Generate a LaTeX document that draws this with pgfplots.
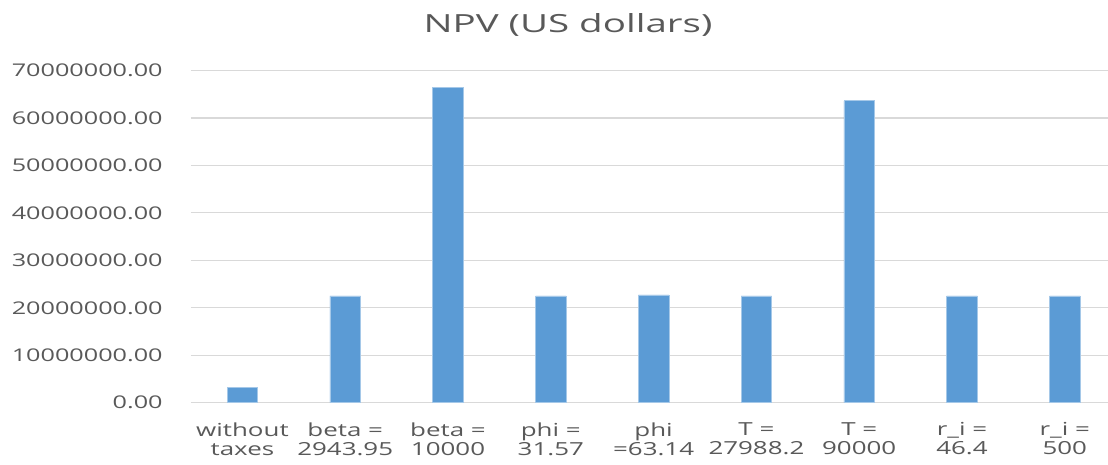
\documentclass[border=0pt]{standalone}
\usepackage{pgfplots}
\pgfplotsset{compat=1.18}
\usepackage{fontspec}
\setmainfont{Carlito}
\newfontfamily\titlefont[FakeStretch=1.54]{Open Sans}
\newfontfamily\tickfont[FakeStretch=1.44]{Open Sans}
\definecolor{barblue}{HTML}{5B9BD5}
\definecolor{txtgrey}{HTML}{595959}
\definecolor{gridgrey}{HTML}{D9D9D9}
\begin{document}
\begin{tikzpicture}
\useasboundingbox (0,0) rectangle (554pt,232.5pt);
\begin{axis}[
  at={(95.5pt,31.15pt)}, anchor=south west,
  scale only axis,
  width=458.5pt, height=166.1pt,
  xmin=-0.5, xmax=8.42,
  ymin=0, ymax=70000000,
  ytick={0,10000000,20000000,30000000,40000000,50000000,60000000,70000000},
  scaled y ticks=false,
  ymajorgrids,
  grid style={draw=gridgrey, line width=0.6pt},
  axis x line*=bottom,
  axis y line*=left,
  x axis line style={draw=gridgrey, line width=0.6pt, -},
  y axis line style={draw=none},
  major tick length=0pt,
  xtick={0,1,2,3,4,5,6,7,8},
  xticklabels={{without\\taxes},{beta =\\2943.95},{beta =\\10000},{phi =\\31.57},{phi\\=63.14},{T =\\27988.2},{T =\\90000},{r\_i =\\46.4},{r\_i =\\500}},
  xticklabel style={font=\tickfont\fontsize{9pt}{9.5pt}\selectfont, text=txtgrey, align=center, anchor=north, inner sep=0pt, yshift=-9.8pt},
  yticklabel style={font=\tickfont\fontsize{8.75pt}{10pt}\selectfont, text=txtgrey, anchor=east, inner sep=0pt, xshift=-14pt},
  /pgf/number format/.cd, fixed, fixed zerofill, precision=2, 1000 sep={}, assume math mode=true,
]
\addplot[ybar, bar width=15.3pt, fill=barblue, draw=barblue!55!white, line width=0.4pt]
coordinates {(0,3260000) (1,22500000) (2,66500000) (3,22500000) (4,22700000) (5,22500000) (6,63600000) (7,22500000) (8,22500000)};
\end{axis}
\node[anchor=base, text=txtgrey, font=\titlefont\fontsize{12.5pt}{15pt}\selectfont, inner sep=0pt] at (284pt,216pt) {NPV (US dollars)};
\end{tikzpicture}
\end{document}
